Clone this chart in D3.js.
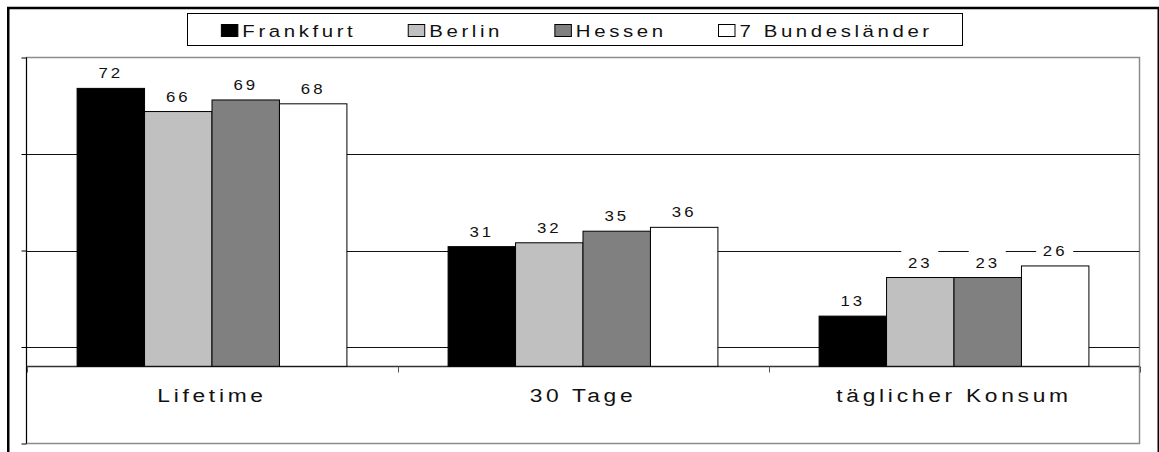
<!DOCTYPE html>
<html>
<head>
<meta charset="utf-8">
<script src="https://cdn.jsdelivr.net/npm/d3@7"></script>
<style>
  html, body { margin: 0; padding: 0; background: #fff; }
  svg { display: block; }
  text { font-family: "Liberation Sans", Arial, sans-serif; fill: #111; }
</style>
</head>
<body>
<svg id="chart" width="1159" height="452"></svg>
<script>
// Prevalence by region (percent)
const categories = ["Lifetime", "30 Tage", "täglicher Konsum"];
const seriesNames = ["Frankfurt", "Berlin", "Hessen", "7 Bundesländer"];
const frankfurt = [72, 31, 13];
const berlin = [66, 32, 23];
const hessen = [69, 35, 23];
const bundeslaender = [68, 36, 26];
const yTicks = [-20, 5, 30, 55, 80];

const seriesValues = [frankfurt, berlin, hessen, bundeslaender];
const seriesFills = ["#000000", "#c0c0c0", "#808080", "#ffffff"];

const plot = { left: 26.5, right: 1139.5, top: 57.5, bottom: 443.5 };
const K = 1.2; // horizontal stretch of the lettering

const svg = d3.select("#chart");

// text with a slight horizontal stretch and wide tracking
function label(parent, x, y, str, size, spacing, anchor) {
  const g = parent.append("g")
    .attr("transform", `translate(${x},${y}) scale(${K},1)`);
  return g.append("text")
    .attr("text-anchor", anchor)
    .attr("font-size", size)
    .style("letter-spacing", spacing + "px")
    .text(str);
}

// outer chart frame
svg.append("rect")
  .attr("x", 8.25).attr("y", 8).attr("width", 1150.5).attr("height", 520)
  .attr("fill", "#fff").attr("stroke", "#000").attr("stroke-width", 2.5);

// scales
const x0 = d3.scaleBand().domain(categories)
  .range([plot.left, plot.right]).paddingInner(0).paddingOuter(0);
const x1 = d3.scaleBand().domain(seriesNames)
  .range([0, x0.bandwidth()]).paddingInner(0).paddingOuter(0.75);
const y = d3.scaleLinear().domain([yTicks[0], yTicks[yTicks.length - 1]])
  .range([plot.bottom, plot.top]);

// plot area border
svg.append("rect")
  .attr("x", plot.left).attr("y", plot.top)
  .attr("width", plot.right - plot.left).attr("height", plot.bottom - plot.top)
  .attr("fill", "#fff").attr("stroke", "#8c8c8c").attr("stroke-width", 1.5);

// horizontal gridlines
svg.append("g").selectAll("line")
  .data(yTicks.slice(1, -1))
  .join("line")
  .attr("x1", plot.left).attr("x2", plot.right)
  .attr("y1", d => Math.round(y(d)) + 0.5).attr("y2", d => Math.round(y(d)) + 0.5)
  .attr("stroke", "#111").attr("stroke-width", 1);

// value axis (no tick labels)
const yAxis = d3.axisLeft(y).tickValues(yTicks).tickSize(5).tickFormat("");
const gy = svg.append("g").attr("transform", `translate(${plot.left},0)`).call(yAxis);
gy.select(".domain").attr("stroke", "#000").attr("d", `M0,${plot.top}V${plot.bottom}`);
gy.selectAll(".tick line").attr("stroke", "#000");

// category axis at zero
const y0 = Math.round(y(0)) + 0.5;
const boundaries = categories.map(c => x0(c)).concat([plot.right]);
const gx = svg.append("g");
gx.append("line")
  .attr("x1", plot.left).attr("x2", plot.right).attr("y1", y0).attr("y2", y0)
  .attr("stroke", "#333").attr("stroke-width", 1.5);
gx.selectAll("line.tick")
  .data(boundaries)
  .join("line").attr("class", "tick")
  .attr("x1", d => Math.round(d) + 0.5).attr("x2", d => Math.round(d) + 0.5)
  .attr("y1", y0).attr("y2", y0 + 6)
  .attr("stroke", "#555").attr("stroke-width", 1);

// bars
const groups = svg.append("g").selectAll("g")
  .data(categories)
  .join("g")
  .attr("transform", c => `translate(${x0(c)},0)`);

const barData = ci => seriesNames.map((s, si) => ({
  series: s, value: seriesValues[si][ci], fill: seriesFills[si]
}));

groups.each(function (c, ci) {
  const g = d3.select(this);
  const data = barData(ci);

  // white label backgrounds (they break the gridlines)
  g.selectAll("rect.lbg")
    .data(data)
    .join("rect").attr("class", "lbg")
    .attr("x", d => x1(d.series) + x1.bandwidth() / 2 - 19)
    .attr("y", d => y(d.value) - 29)
    .attr("width", 37).attr("height", 23)
    .attr("fill", "#fff");

  g.selectAll("rect.bar")
    .data(data)
    .join("rect").attr("class", "bar")
    .attr("x", d => x1(d.series))
    .attr("y", d => y(d.value))
    .attr("width", x1.bandwidth())
    .attr("height", d => y(0) - y(d.value))
    .attr("fill", d => d.fill)
    .attr("stroke", "#000").attr("stroke-width", 1);

  data.forEach(d => {
    label(g, x1(d.series) + x1.bandwidth() / 2, y(d.value) - 10,
      String(d.value), 14, 2.5, "middle");
  });
});

// category labels
categories.forEach(c => {
  label(svg, x0(c) + x0.bandwidth() / 2, 401.5, c, 19, 3.1, "middle");
});

// legend
const legendBox = { x: 187.5, y: 13.5, w: 775, h: 32 };
const lg = svg.append("g");
lg.append("rect")
  .attr("x", legendBox.x).attr("y", legendBox.y)
  .attr("width", legendBox.w).attr("height", legendBox.h)
  .attr("fill", "#fff").attr("stroke", "#000").attr("stroke-width", 1);

const keyW = 16.5, keyH = 12, keyGap = 5, itemGap = 55, legSpacing = 3.0, legSize = 17;
const items = lg.append("g");
let cursor = 0;
seriesNames.forEach((s, i) => {
  items.append("rect")
    .attr("x", cursor + 0.5).attr("y", 24.5)
    .attr("width", keyW).attr("height", keyH)
    .attr("fill", seriesFills[i]).attr("stroke", "#000").attr("stroke-width", 1);
  const t = label(items, cursor + keyW + keyGap, 36.7, s, legSize, legSpacing, "start");
  const len = t.node().getComputedTextLength() * K - legSpacing * K;
  cursor += keyW + keyGap + len + itemGap;
});
const contentW = cursor - itemGap;
const offset = legendBox.x + (legendBox.w - contentW) / 2;
items.attr("transform", `translate(${offset},0)`);
</script>
</body>
</html>
